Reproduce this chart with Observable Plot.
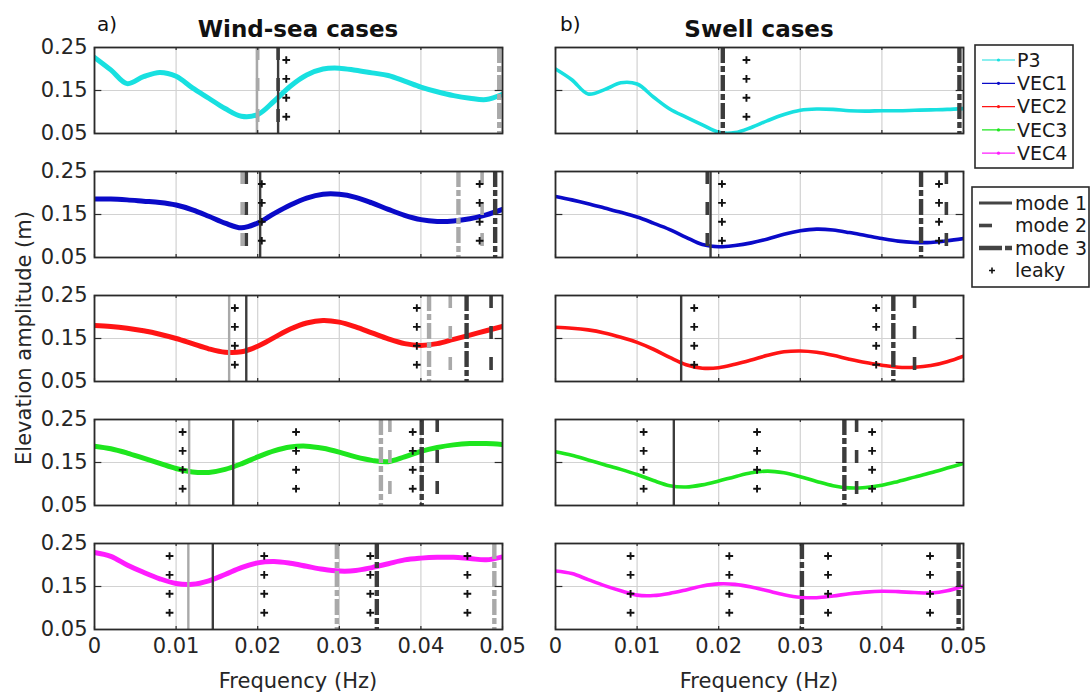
<!DOCTYPE html>
<html><head><meta charset="utf-8">
<script src="https://cdn.jsdelivr.net/npm/d3@7"></script>
<script src="https://cdn.jsdelivr.net/npm/@observablehq/plot@0.6"></script>
<style>
body{margin:0;background:#fff;font-family:"DejaVu Sans",sans-serif;}
#fig{position:relative;width:1091px;height:695px;overflow:hidden;background:#fff;}
#fig svg{position:absolute;left:0;top:0;}
</style></head><body><div id="fig"></div>
<script>
// ---------------- data ----------------
const cases = ["wind", "swell"];
const caseTitles = ["Wind-sea cases", "Swell cases"];
const panelTags = ["a)", "b)"];
const series = ["P3", "VEC1", "VEC2", "VEC3", "VEC4"];
const seriesColors = ["#18e0e0", "#0a0ac8", "#ff1414", "#1ee61e", "#ff1cff"];
const xTicks = [0, 0.01, 0.02, 0.03, 0.04, 0.05];
const yTicks = [0.05, 0.15, 0.25];
const freqs = [0, 0.002, 0.004, 0.006, 0.008, 0.010, 0.012, 0.014, 0.016, 0.018, 0.020, 0.022, 0.024,
  0.026, 0.028, 0.030, 0.032, 0.034, 0.036, 0.038, 0.040, 0.042, 0.044, 0.046, 0.048, 0.050];

// elevation amplitude (m) at the frequencies above
const windP3   = [0.227,0.198,0.166,0.182,0.192,0.183,0.156,0.132,0.108,0.090,0.094,0.125,0.160,0.186,0.200,0.202,0.197,0.191,0.185,0.172,0.158,0.147,0.138,0.132,0.129,0.141];
const windVEC1 = [0.186,0.186,0.184,0.181,0.178,0.172,0.161,0.146,0.130,0.119,0.130,0.152,0.172,0.188,0.197,0.197,0.190,0.177,0.162,0.148,0.138,0.134,0.135,0.140,0.149,0.162];
const windVEC2 = [0.180,0.178,0.174,0.168,0.160,0.150,0.138,0.126,0.118,0.119,0.132,0.152,0.172,0.186,0.192,0.188,0.177,0.163,0.149,0.138,0.134,0.138,0.148,0.158,0.168,0.178];
const windVEC3 = [0.188,0.182,0.172,0.160,0.148,0.136,0.128,0.127,0.134,0.147,0.163,0.177,0.186,0.188,0.183,0.174,0.163,0.155,0.152,0.163,0.176,0.185,0.191,0.194,0.194,0.192];
const windVEC4 = [0.229,0.220,0.200,0.183,0.168,0.157,0.155,0.163,0.178,0.194,0.205,0.208,0.204,0.197,0.190,0.186,0.187,0.194,0.203,0.212,0.216,0.218,0.218,0.215,0.212,0.219];
const swellP3   = [0.200,0.175,0.142,0.152,0.168,0.165,0.135,0.107,0.088,0.070,0.053,0.052,0.064,0.080,0.094,0.104,0.107,0.106,0.103,0.102,0.103,0.103,0.104,0.105,0.106,0.108];
const swellVEC1 = [0.192,0.184,0.175,0.165,0.155,0.144,0.130,0.115,0.097,0.080,0.075,0.078,0.084,0.093,0.104,0.112,0.116,0.114,0.108,0.101,0.094,0.088,0.085,0.085,0.089,0.094];
const swellVEC2 = [0.176,0.174,0.170,0.163,0.153,0.141,0.125,0.106,0.089,0.081,0.082,0.090,0.100,0.111,0.119,0.121,0.118,0.111,0.102,0.094,0.088,0.083,0.083,0.087,0.096,0.109];
const swellVEC3 = [0.175,0.167,0.156,0.145,0.134,0.122,0.108,0.096,0.093,0.098,0.107,0.117,0.126,0.130,0.126,0.117,0.106,0.096,0.091,0.092,0.097,0.106,0.116,0.126,0.137,0.148];
const swellVEC4 = [0.186,0.180,0.166,0.152,0.140,0.130,0.129,0.134,0.142,0.151,0.156,0.155,0.149,0.140,0.131,0.125,0.124,0.128,0.133,0.137,0.139,0.138,0.136,0.135,0.140,0.151];

// vertical mode lines: [series, frequency (Hz), mode number, shade]
const modeLinesWind = [
  ["P3", 0.0199, 1, "light"], ["P3", 0.0200, 2, "light"], ["P3", 0.0225, 1, "dark"], ["P3", 0.0225, 2, "dark"], ["P3", 0.0496, 3, "light"],
  ["VEC1", 0.0181, 2, "light"], ["VEC1", 0.0186, 2, "dark"], ["VEC1", 0.0203, 1, "dark"], ["VEC1", 0.0446, 3, "light"], ["VEC1", 0.0475, 2, "light"], ["VEC1", 0.0491, 3, "dark"],
  ["VEC2", 0.0165, 1, "light"], ["VEC2", 0.0186, 1, "dark"], ["VEC2", 0.0410, 3, "light"], ["VEC2", 0.0436, 2, "light"], ["VEC2", 0.0456, 3, "dark"], ["VEC2", 0.0486, 2, "dark"],
  ["VEC3", 0.0116, 1, "light"], ["VEC3", 0.0170, 1, "dark"], ["VEC3", 0.0351, 3, "light"], ["VEC3", 0.0362, 2, "light"], ["VEC3", 0.0401, 3, "dark"], ["VEC3", 0.0420, 2, "dark"],
  ["VEC4", 0.0115, 1, "light"], ["VEC4", 0.0145, 1, "dark"], ["VEC4", 0.0297, 3, "light"], ["VEC4", 0.0346, 3, "dark"], ["VEC4", 0.0490, 3, "light"]
];
const modeLinesSwell = [
  ["P3", 0.0205, 3, "dark"], ["P3", 0.0495, 3, "dark"],
  ["VEC1", 0.0186, 2, "dark"], ["VEC1", 0.0190, 1, "dark"], ["VEC1", 0.0448, 3, "dark"], ["VEC1", 0.0479, 2, "dark"],
  ["VEC2", 0.0154, 1, "dark"], ["VEC2", 0.0414, 3, "dark"], ["VEC2", 0.0440, 2, "dark"],
  ["VEC3", 0.0145, 1, "dark"], ["VEC3", 0.0354, 3, "dark"], ["VEC3", 0.0369, 2, "dark"],
  ["VEC4", 0.0302, 3, "dark"], ["VEC4", 0.0494, 3, "dark"]
];
// leaky modes: [series, frequency (Hz)]
const leakyWind = [["P3", 0.0235], ["VEC1", 0.0205], ["VEC1", 0.0472], ["VEC2", 0.0172], ["VEC2", 0.0395],
  ["VEC3", 0.0108], ["VEC3", 0.0247], ["VEC3", 0.0390], ["VEC4", 0.0092], ["VEC4", 0.0208], ["VEC4", 0.0338], ["VEC4", 0.0457]];
const leakySwell = [["P3", 0.0234], ["VEC1", 0.0204], ["VEC1", 0.0470], ["VEC2", 0.0170], ["VEC2", 0.0393],
  ["VEC3", 0.0108], ["VEC3", 0.0247], ["VEC3", 0.0388], ["VEC4", 0.0092], ["VEC4", 0.0213], ["VEC4", 0.0334], ["VEC4", 0.0459]];
const leakyLevels = [0.089, 0.133, 0.177, 0.221];

const modeNames = ["mode 1", "mode 2", "mode 3", "leaky"];
const shadeColors = {dark: "#3c3c3c", light: "#a9a9a9"};

// ---------------- tidy tables ----------------
const amps = {
  wind: [windP3, windVEC1, windVEC2, windVEC3, windVEC4],
  swell: [swellP3, swellVEC1, swellVEC2, swellVEC3, swellVEC4]
};
const curveRows = [];
for (const c of cases) series.forEach((s, si) => freqs.forEach((f, i) =>
  curveRows.push({case: c, series: s, f, a: amps[c][si][i], color: seriesColors[si]})));
const modeRows = [
  ...modeLinesWind.map(([s, f, m, sh]) => ({case: "wind", series: s, f, mode: m, color: shadeColors[sh]})),
  ...modeLinesSwell.map(([s, f, m, sh]) => ({case: "swell", series: s, f, mode: m, color: shadeColors[sh]}))
];
const leakyRows = [];
for (const [c, list] of [["wind", leakyWind], ["swell", leakySwell]])
  for (const [s, f] of list) for (const a of leakyLevels) leakyRows.push({case: c, series: s, f, a});

const modeStyle = {
  1: {strokeWidth: 2.4, dash: null},
  2: {strokeWidth: 3.6, dash: "13,18"},
  3: {strokeWidth: 4.4, dash: "16,3,6,3"}
};

// ---------------- plot ----------------
const fig = document.getElementById("fig");
const plot = Plot.plot({
  width: 1091, height: 695,
  marginLeft: 94, marginRight: 128, marginTop: 45, marginBottom: 64,
  style: {fontFamily: "DejaVu Sans", fontSize: "21px", color: "#262626", background: "transparent"},
  fx: {domain: cases, axis: null, paddingInner: 0.115, paddingOuter: 0},
  fy: {domain: series, axis: null, paddingInner: 0.307, paddingOuter: 0},
  x: {domain: [0, 0.05], ticks: xTicks, tickFormat: d => d === 0 ? "0" : d.toFixed(2), tickSize: 0, tickPadding: 9, label: null},
  y: {domain: [0.05, 0.25], ticks: yTicks, tickFormat: d => d.toFixed(2), tickSize: 0, tickPadding: 7, label: null},
  color: {type: "identity"},
  marks: [
    Plot.ruleX(xTicks, {stroke: "#d2d2d2", strokeWidth: 1.2}),
    Plot.ruleY([0.15], {stroke: "#d2d2d2", strokeWidth: 1.2}),
    Plot.line(curveRows.filter(d => d.case === "wind"), {x: "f", y: "a", z: "series", fx: "case", fy: "series", stroke: "color", strokeWidth: 5, curve: "catmull-rom", clip: true}),
    Plot.line(curveRows.filter(d => d.case === "swell"), {x: "f", y: "a", z: "series", fx: "case", fy: "series", stroke: "color", strokeWidth: 3.6, curve: "catmull-rom", clip: true}),
    ...[1, 2, 3].map(m => Plot.ruleX(modeRows.filter(d => d.mode === m), {
      x: "f", fx: "case", fy: "series", stroke: "color",
      strokeWidth: modeStyle[m].strokeWidth, strokeDasharray: modeStyle[m].dash
    })),
    Plot.dot(leakyRows, {x: "f", y: "a", fx: "case", fy: "series", symbol: "plus", r: 2.6, stroke: "#111", strokeWidth: 1.9}),
    Plot.ruleX(xTicks, {y1: 0.05, y2: 0.057, stroke: "#2a2a2a", strokeWidth: 1.2}),
    Plot.ruleX(xTicks, {y1: 0.243, y2: 0.25, stroke: "#2a2a2a", strokeWidth: 1.2}),
    Plot.ruleY([0.15], {x1: 0, x2: 0.0009, stroke: "#2a2a2a", strokeWidth: 1.2}),
    Plot.ruleY([0.15], {x1: 0.0491, x2: 0.05, stroke: "#2a2a2a", strokeWidth: 1.2}),
    Plot.frame({stroke: "#2a2a2a", strokeWidth: 1.8})
  ]
});
fig.appendChild(plot);

// ---------------- titles, axis labels, legends ----------------
const ov = d3.select(fig).append("svg").attr("width", 1091).attr("height", 695)
  .style("font-family", "DejaVu Sans").style("pointer-events", "none");
const colCenters = [298, 759];
const tagX = [97, 560];
cases.forEach((c, i) => {
  ov.append("text").attr("x", tagX[i]).attr("y", 31).attr("font-size", 20).attr("fill", "#111").text(panelTags[i]);
  ov.append("text").attr("x", colCenters[i]).attr("y", 37).attr("text-anchor", "middle")
    .attr("font-size", 23).attr("font-weight", "bold").attr("fill", "#111").text(caseTitles[i]);
  ov.append("text").attr("x", colCenters[i]).attr("y", 688).attr("text-anchor", "middle")
    .attr("font-size", 21).attr("fill", "#262626").text("Frequency (Hz)");
});
ov.append("text").attr("transform", "translate(24,338) rotate(-90)").attr("text-anchor", "middle")
  .attr("dy", "0.35em").attr("font-size", 21).attr("fill", "#262626").text("Elevation amplitude (m)");

// legend 1: series
const l1 = ov.append("g");
l1.append("rect").attr("x", 975).attr("y", 45).attr("width", 98).attr("height", 123)
  .attr("fill", "white").attr("stroke", "#2a2a2a").attr("stroke-width", 1.6);
series.forEach((s, i) => {
  const yy = 60 + i * 23.3;
  l1.append("line").attr("x1", 982).attr("x2", 1015).attr("y1", yy).attr("y2", yy)
    .attr("stroke", seriesColors[i]).attr("stroke-width", 1.2);
  l1.append("circle").attr("cx", 998.5).attr("cy", yy).attr("r", 1.6).attr("fill", seriesColors[i]);
  l1.append("text").attr("x", 1017).attr("y", yy).attr("dy", "0.36em").attr("font-size", 19)
    .attr("fill", "#1a1a1a").text(s);
});
// legend 2: modes
const l2 = ov.append("g");
l2.append("rect").attr("x", 972).attr("y", 187).attr("width", 117).attr("height", 100)
  .attr("fill", "white").attr("stroke", "#2a2a2a").attr("stroke-width", 1.6);
modeNames.forEach((m, i) => {
  const yy = 203 + i * 22.5;
  if (i < 3) {
    const st = modeStyle[i + 1];
    l2.append("line").attr("x1", 979).attr("x2", 1012).attr("y1", yy).attr("y2", yy)
      .attr("stroke", "#444").attr("stroke-width", i === 0 ? 3 : st.strokeWidth)
      .attr("stroke-dasharray", i === 1 ? "13,40" : i === 2 ? "23,3,7,40" : null);
  } else {
    l2.append("path").attr("d", "M992,"+(yy-3)+"V"+(yy+3)+"M989,"+yy+"H995").attr("stroke", "#111").attr("stroke-width", 1.6);
  }
  l2.append("text").attr("x", 1015).attr("y", yy).attr("dy", "0.36em").attr("font-size", 19)
    .attr("fill", "#1a1a1a").text(m);
});
</script></body></html>
